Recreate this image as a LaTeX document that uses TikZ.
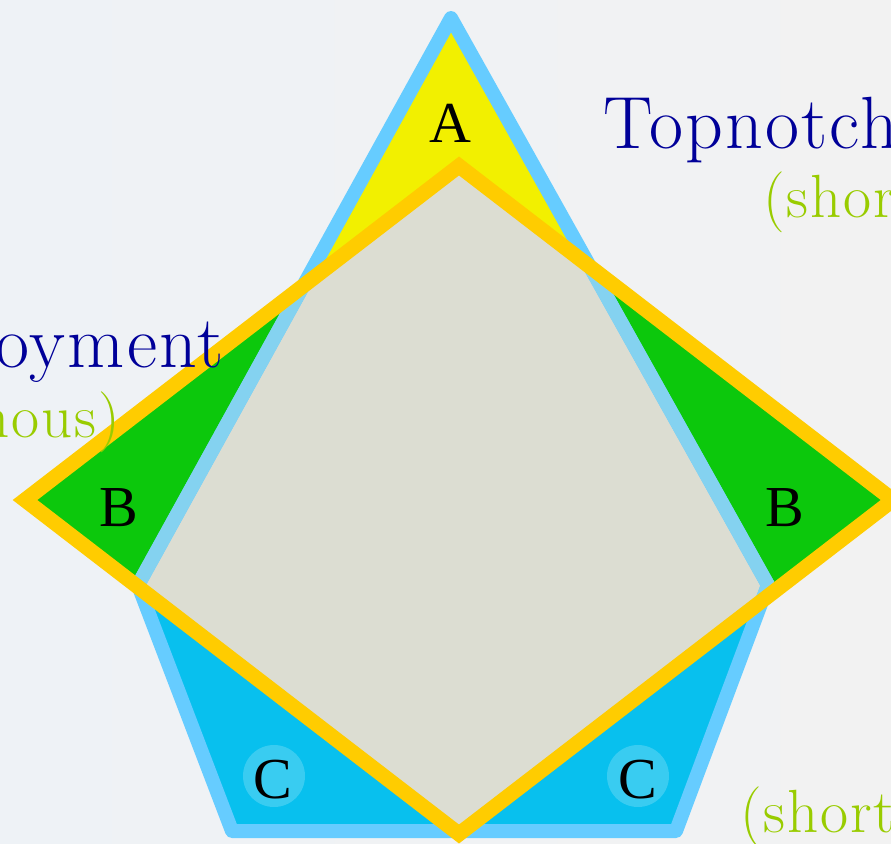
\documentclass[tikz,border=0pt]{standalone}
\usepackage{fontspec}
\newfontfamily\letterfont{Liberation Serif}
\newfontfamily\wideroman[LetterSpace=3]{Latin Modern Roman}
\definecolor{bgl}{RGB}{238,242,246}
\definecolor{bgr}{RGB}{242,242,242}
\definecolor{stripblue}{RGB}{102,204,255}
\definecolor{striplight}{RGB}{132,210,240}
\definecolor{afill}{RGB}{242,240,0}
\definecolor{bfill}{RGB}{12,200,12}
\definecolor{cfill}{RGB}{8,192,238}
\definecolor{midfill}{RGB}{220,221,210}
\definecolor{diaorange}{RGB}{255,204,0}
\definecolor{titleblue}{RGB}{0,0,153}
\definecolor{subgreen}{RGB}{153,204,0}
\tikzset{
  pentline/.style={line width=14pt,line join=round,line cap=round},
  dialine/.style={draw=diaorange,line width=15pt,line join=miter},
  letter/.style={anchor=base,inner sep=0pt,font=\letterfont\fontsize{58}{60}\selectfont,text=black},
  glow/.style={circle,minimum size=62pt,inner sep=0pt,fill=white,fill opacity=0.2},
  titletext/.style={inner sep=0pt,font=\wideroman\fontsize{74}{78}\selectfont,text=titleblue},
  subtext/.style={inner sep=0pt,font=\wideroman\fontsize{61}{64}\selectfont,text=subgreen}
}
\begin{document}
\begin{tikzpicture}[x=1pt,y=-1pt]
\useasboundingbox (0,0) rectangle (891,843);
\clip (0,0) rectangle (891,843);
\shade[left color=bgl,right color=bgr] (0,0) rectangle (891,843);
% pentagon vertices
\coordinate (T) at (451,18);
\coordinate (R) at (768,585);
\coordinate (BR) at (676,831);
\coordinate (BL) at (232,831);
\coordinate (L) at (138,585);
% diamond vertices
\coordinate (DT) at (459,166);
\coordinate (DR) at (893,500);
\coordinate (DB) at (459,834);
\coordinate (DL) at (25,500);
% green diamond
\fill[bfill] (DT) -- (DR) -- (DB) -- (DL) -- cycle;
% pentagon fills
\begin{scope}
  \clip (T) -- (R) -- (BR) -- (BL) -- (L) -- cycle;
  \fill[afill] (0,0) rectangle (891,560);
  \fill[cfill] (0,560) rectangle (891,843);
  \fill[midfill] (DT) -- (DR) -- (DB) -- (DL) -- cycle;
\end{scope}
% pentagon outline
\draw[pentline,draw=stripblue] (T) -- (R) -- (BR) -- (BL) -- (L) -- cycle;
\begin{scope}
  \clip (DT) -- (DR) -- (DB) -- (DL) -- cycle;
  \draw[pentline,draw=striplight] (T) -- (R) -- (BR) -- (BL) -- (L) -- cycle;
\end{scope}
% glows behind C
\node[glow] (g1) at (274,776) {};
\node[glow] (g2) at (638,776) {};
% diamond outline
\draw[dialine] (DT) -- (DR) -- (DB) -- (DL) -- cycle;
% letters
\node[letter] (la) at (450,142) {A};
\node[letter] (lb1) at (119,526) {B};
\node[letter] (lb2) at (785,526) {B};
\node[letter] (lc1) at (273,798) {C};
\node[letter] (lc2) at (638,798) {C};
% texts
\node[titletext,anchor=base west] (t1) at (603,148) {Topnotch};
\node[subtext,anchor=base west] (s1) at (763,217) {(shor};
\node[titletext,anchor=base east] (t2) at (224,367) {oyment};
\node[subtext,anchor=base east] (s2) at (120,437) {nous)};
\node[subtext,anchor=base west] (s3) at (740,832) {(short};
\end{tikzpicture}
\end{document}
